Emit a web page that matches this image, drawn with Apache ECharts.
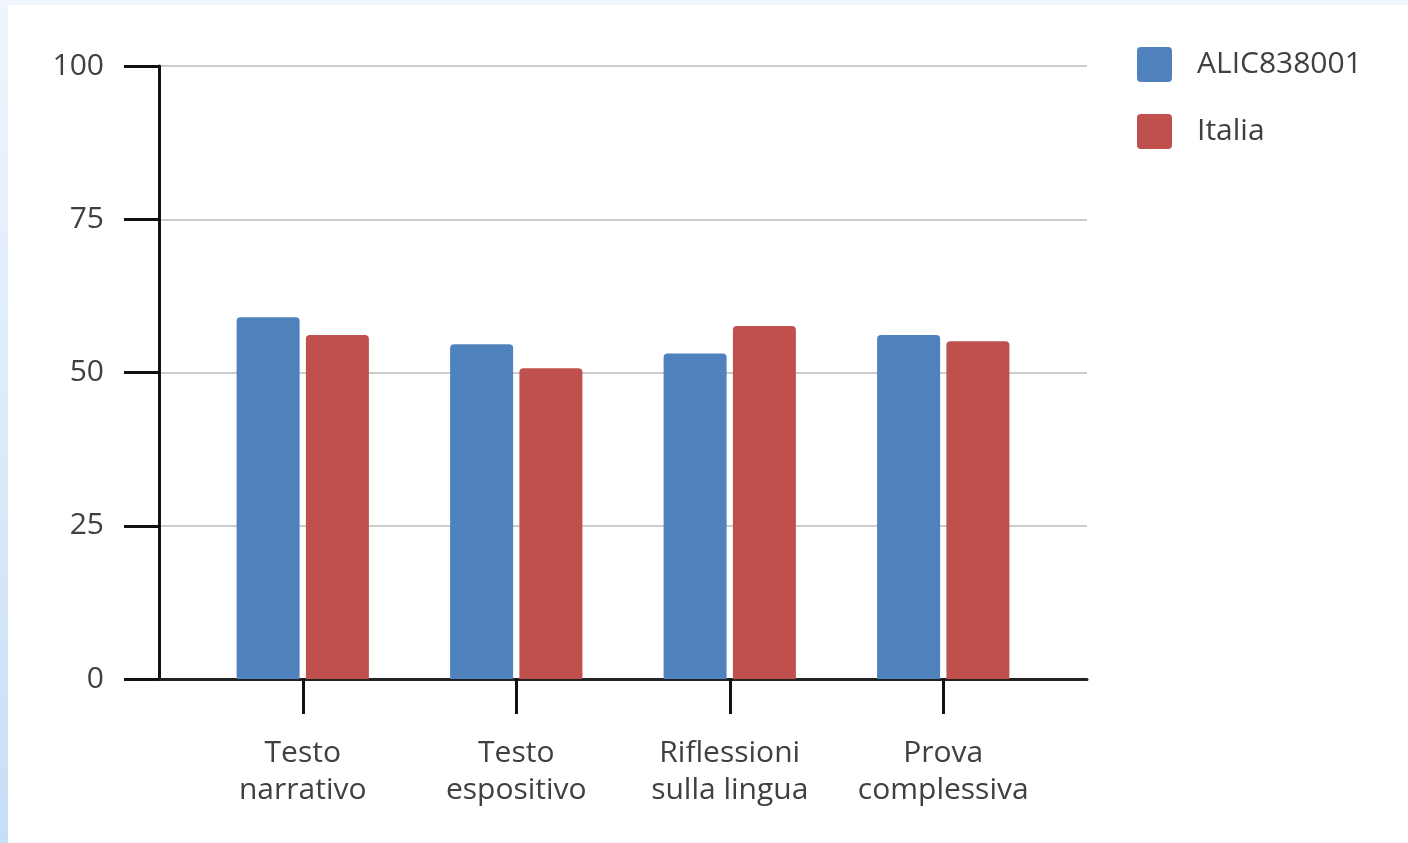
<!DOCTYPE html>
<html>
<head>
<meta charset="utf-8">
<script src="https://cdn.jsdelivr.net/npm/echarts@6/dist/echarts.min.js"></script>
<style>
  html, body { margin: 0; padding: 0; width: 1408px; height: 843px; overflow: hidden;
    background: linear-gradient(to bottom, #eef5fd 0%, #dcebfa 50%, #c6def7 100%); }
  #panel { position: absolute; left: 8px; top: 5px; right: 0; bottom: 0; background: #ffffff; }
  #chart { position: absolute; left: 0; top: 0; width: 1408px; height: 843px; }
</style>
</head>
<body>
<div id="panel"></div>
<div id="chart"></div>
<script>
const categories = ['Testo\nnarrativo', 'Testo\nespositivo', 'Riflessioni\nsulla lingua', 'Prova\ncomplessiva'];
const seriesNames = ['ALIC838001', 'Italia'];
const schoolValues = [59.0, 54.6, 53.1, 56.1];
const italyValues = [56.1, 50.7, 57.6, 55.1];
const yTicks = [0, 25, 50, 75, 100];

const font = '"Open Sans", "DejaVu Sans", sans-serif';
const chart = echarts.init(document.getElementById('chart'), null, { renderer: 'canvas' });
chart.setOption({
  backgroundColor: 'transparent',
  animation: false,
  color: ['#4F81BD', '#C0504D'],
  legend: {
    orient: 'vertical',
    left: 1137, top: 47, padding: 0,
    itemWidth: 35, itemHeight: 35, itemGap: 32,
    icon: 'path://M4,0 H31 Q35,0 35,4 V31 Q35,35 31,35 H4 Q0,35 0,31 V4 Q0,0 4,0 Z',
    data: seriesNames,
    textStyle: { fontFamily: font, fontSize: 30, color: '#404040', padding: [0, 0, 0, 20] }
  },
  grid: [
    { left: 159, top: 66, width: 928, height: 613 },
    { left: 196, top: 66, width: 854, height: 613 }
  ],
  xAxis: [
    { gridIndex: 0, type: 'value', min: 0, max: 1,
      axisLine: { show: true, onZero: false, lineStyle: { color: '#222', width: 3 } },
      axisTick: { show: false }, axisLabel: { show: false }, splitLine: { show: false } },
    { gridIndex: 1, type: 'category', data: categories,
      axisLine: { show: false },
      axisTick: { show: true, alignWithLabel: true, length: 35, lineStyle: { color: '#111', width: 3 } },
      axisLabel: { fontFamily: font, fontSize: 30, color: '#404040', lineHeight: 37, margin: 56, interval: 0 } }
  ],
  yAxis: [
    { gridIndex: 0, type: 'value', min: yTicks[0], max: yTicks[yTicks.length - 1], interval: 25,
      axisLine: { show: true, lineStyle: { color: '#111', width: 3 } },
      axisTick: { show: true, length: 35, lineStyle: { color: '#111', width: 3 } },
      axisLabel: { fontFamily: font, fontSize: 30, color: '#404040', margin: 55 },
      splitLine: { show: true, lineStyle: { color: '#cccccc', width: 2 } } },
    { gridIndex: 1, type: 'value', min: 0, max: 100, interval: 25, show: false, splitLine: { show: false } }
  ],
  series: [
    { name: seriesNames[0], type: 'bar', xAxisIndex: 1, yAxisIndex: 1, data: schoolValues,
      barWidth: 63, barGap: '10%', itemStyle: { borderRadius: [4, 4, 0, 0] } },
    { name: seriesNames[1], type: 'bar', xAxisIndex: 1, yAxisIndex: 1, data: italyValues,
      barWidth: 63, barGap: '10%', itemStyle: { borderRadius: [4, 4, 0, 0] } }
  ]
});
</script>
</body>
</html>
